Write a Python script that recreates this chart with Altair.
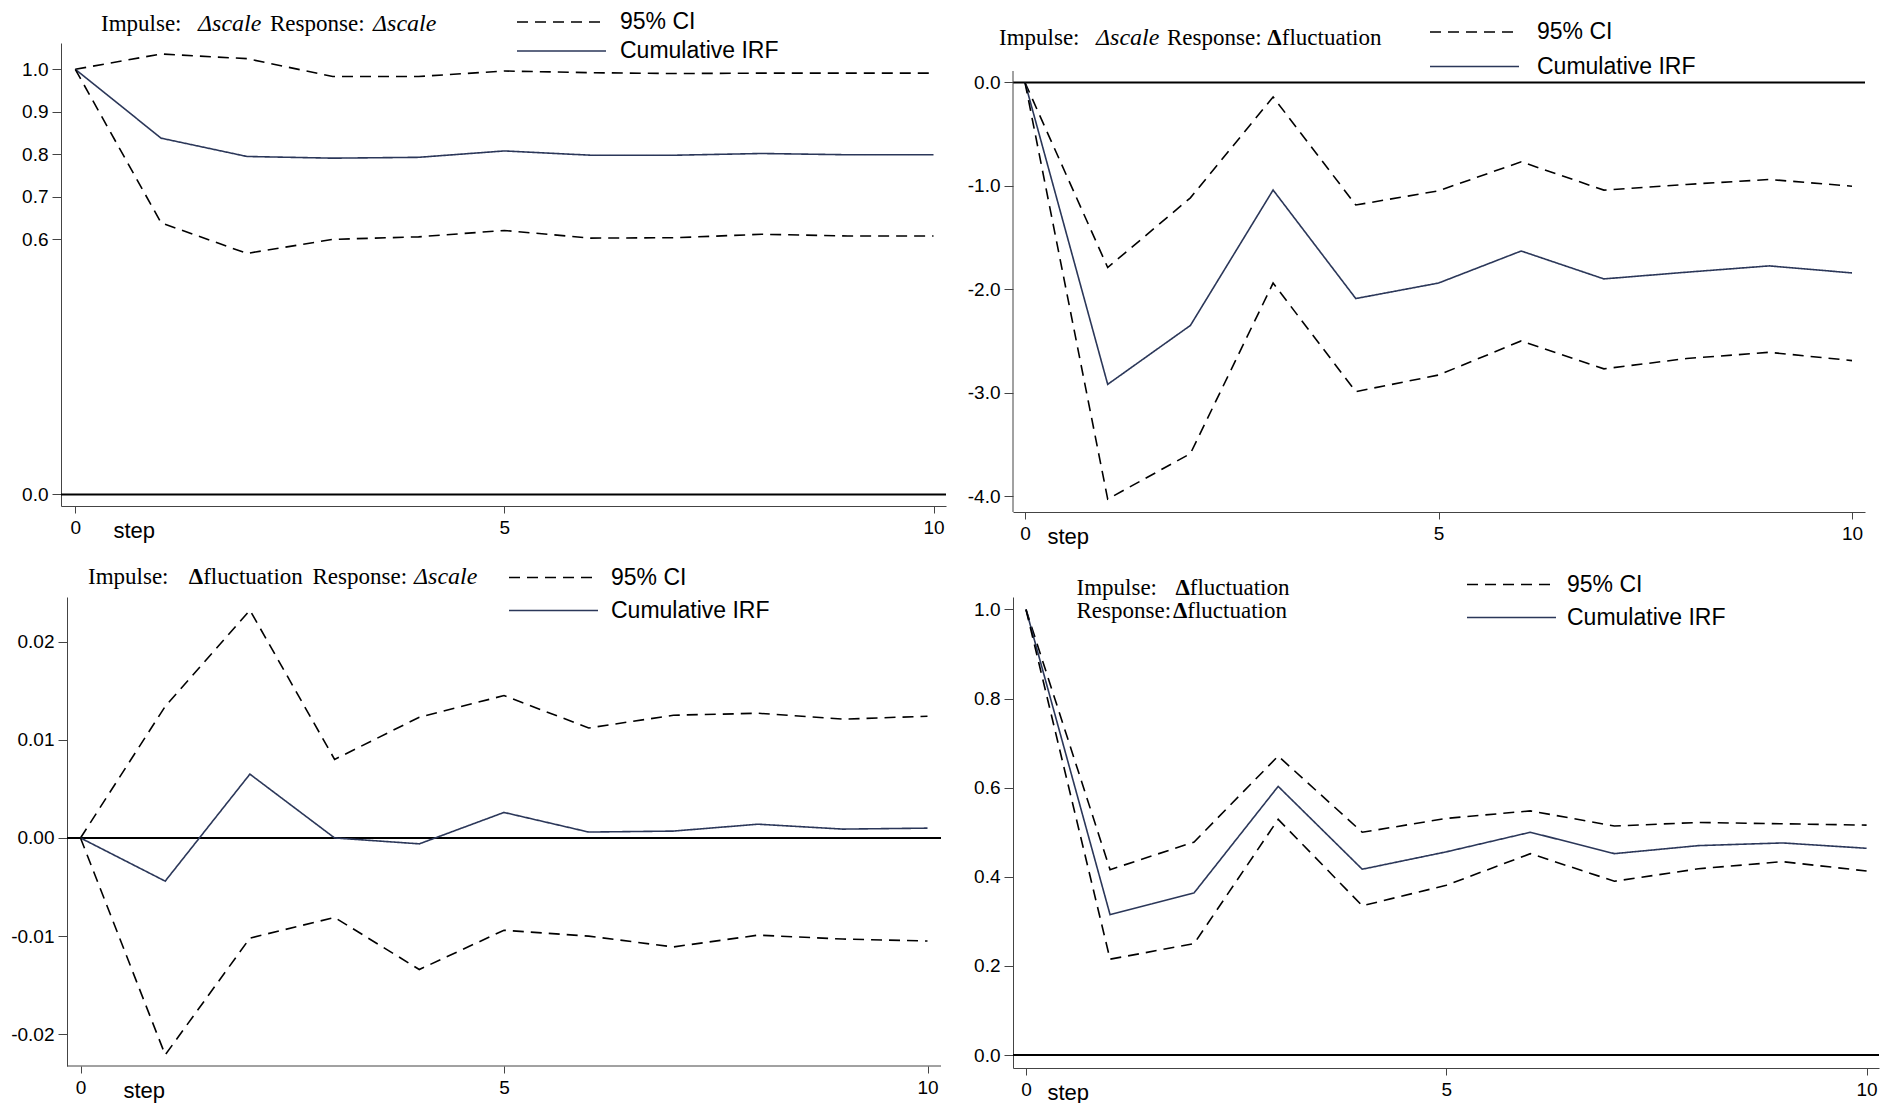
import altair as alt
import pandas as pd

# ---------------- data ----------------
STEPS = list(range(11))
KINDS = ["95% CI", "Cumulative IRF"]
X_TICKS = [0, 5, 10]

# Impulse: Δscale  -> Response: Δscale
P1_UPPER = [1.000, 1.036, 1.025, 0.983, 0.983, 0.996, 0.992, 0.990, 0.991, 0.991, 0.991]
P1_IRF = [1.000, 0.838, 0.795, 0.791, 0.793, 0.808, 0.798, 0.798, 0.802, 0.799, 0.799]
P1_LOWER = [1.000, 0.639, 0.567, 0.600, 0.606, 0.621, 0.603, 0.604, 0.612, 0.608, 0.608]
P1_Y_TICKS = [0.0, 0.6, 0.7, 0.8, 0.9, 1.0]

# Impulse: Δscale  -> Response: Δfluctuation
P2_UPPER = [0.0, -1.79, -1.116, -0.14, -1.185, -1.048, -0.767, -1.041, -0.986, -0.938, -1.003]
P2_IRF = [0.0, -2.92, -2.35, -1.04, -2.09, -1.94, -1.63, -1.90, -1.835, -1.774, -1.842]
P2_LOWER = [0.0, -4.03, -3.59, -1.94, -2.99, -2.83, -2.50, -2.77, -2.67, -2.61, -2.69]
P2_Y_TICKS = [-4.0, -3.0, -2.0, -1.0, 0.0]

# Impulse: Δfluctuation -> Response: Δscale
P3_UPPER = [0.0, 0.0134, 0.0232, 0.0080, 0.0123, 0.0145, 0.0112, 0.0125, 0.0127, 0.0121, 0.0124]
P3_IRF = [0.0, -0.0044, 0.0065, 0.0000, -0.0006, 0.0026, 0.0006, 0.0007, 0.0014, 0.0009, 0.0010]
P3_LOWER = [0.0, -0.0221, -0.0102, -0.0081, -0.0134, -0.0094, -0.0100, -0.0111, -0.0099, -0.0103, -0.0105]
P3_Y_TICKS = [-0.02, -0.01, 0.0, 0.01, 0.02]

# Impulse: Δfluctuation -> Response: Δfluctuation
P4_UPPER = [1.0, 0.416, 0.478, 0.671, 0.500, 0.531, 0.548, 0.514, 0.522, 0.519, 0.516]
P4_IRF = [1.0, 0.315, 0.364, 0.603, 0.417, 0.456, 0.500, 0.452, 0.470, 0.476, 0.464]
P4_LOWER = [1.0, 0.215, 0.250, 0.529, 0.335, 0.381, 0.452, 0.390, 0.418, 0.434, 0.413]
P4_Y_TICKS = [0.0, 0.2, 0.4, 0.6, 0.8, 1.0]

# title pieces: (text, style, weight)
P1_TITLE = [[("Impulse:", "normal", "normal"), ("Δscale", "italic", "normal"),
             ("Response:", "normal", "normal"), ("Δscale", "italic", "normal")]]
P2_TITLE = [[("Impulse:", "normal", "normal"), ("Δscale", "italic", "normal"),
             ("Response:", "normal", "normal"), ("Δ", "normal", "bold"), ("fluctuation", "normal", "normal")]]
P3_TITLE = [[("Impulse:", "normal", "normal"), ("Δ", "normal", "bold"), ("fluctuation", "normal", "normal"),
             ("Response:", "normal", "normal"), ("Δscale", "italic", "normal")]]
P4_TITLE = [[("Impulse:", "normal", "normal"), ("Δ", "normal", "bold"), ("fluctuation", "normal", "normal")],
            [("Response:", "normal", "normal"), ("Δ", "normal", "bold"), ("fluctuation", "normal", "normal")]]

# ---------------- layout / style (page pixels) ----------------
SANS = "Liberation Sans"
SERIF = "Liberation Serif"
NAVY = "#2b3759"
AXIS = "#444444"
DASH = [11, 7]
TITLE_FS = 23
ITALIC_FS = 24
LEG_FS = 23
TICK_FS = 19
LEG_LEN = 89
ANCHOR = (8.5, 4.5)   # invisible corner marker that pins the layout origin

GEO = [
    dict(L=61, T=43, W=885, H=463, ax_left=0, x0=75.3, x10=933.5, yref=((1.0, 69.3), (0.0, 494.5)),
         fmt=".1f", step_x=113, axis_top=None, anchor=True,
         title_x=[[101, 198, 270, 373]], title_y=[30.5],
         leg=dict(line_x=517, label_x=620, c1=22, c2=51)),
    dict(L=1013, T=43, W=852, H=469, ax_left=0, x0=1025, x10=1852, yref=((0.0, 82.5), (-4.0, 496)),
         fmt=".1f", step_x=1047, axis_top=71, anchor=False,
         title_x=[[999, 1096, 1167, 1267.3, 1281.8]], title_y=[44.5],
         leg=dict(line_x=1430, label_x=1537, c1=32, c2=66.5)),
    dict(L=61, T=597, W=880, H=469, ax_left=6, x0=80.5, x10=927.5, yref=((0.02, 641.6), (-0.02, 1034.3)),
         fmt=".2f", step_x=123, axis_top=None, anchor=False,
         title_x=[[88, 188.7, 203.2, 312.5, 414]], title_y=[584],
         leg=dict(line_x=509, label_x=611, c1=577.5, c2=610.5)),
    dict(L=1013, T=597, W=866, H=471, ax_left=0, x0=1026, x10=1866.6, yref=((1.0, 609.5), (0.0, 1055)),
         fmt=".1f", step_x=1047, axis_top=None, anchor=False,
         title_x=[[1076.5, 1175.5, 1189.8], [1076.5, 1173, 1187.3]], title_y=[594.5, 617.5],
         leg=dict(line_x=1467, label_x=1567, c1=584.5, c2=617.5)),
]


def long_table(upper, irf, lower):
    rows = []
    for band, kind, vals in (("upper", KINDS[0], upper), ("irf", KINDS[1], irf), ("lower", KINDS[0], lower)):
        for s, v in zip(STEPS, vals):
            rows.append({"step": s, "value": v, "kind": kind, "band": band})
    return pd.DataFrame(rows)


def make_panel(table, yticks, title, g):
    L, T, W, H, AL = g["L"], g["T"], g["W"], g["H"], g["ax_left"]
    ppu = (g["x10"] - g["x0"]) / 10.0
    xdom = [(L - g["x0"]) / ppu, (L + W - g["x0"]) / ppu]
    (va, pa), (vb, pb) = g["yref"]
    k = (pb - pa) / (va - vb)
    ydom = [va - (T + H - pa) / k, va + (pa - T) / k]

    xs = alt.Scale(domain=xdom, nice=False, zero=False)
    ys = alt.Scale(domain=ydom, nice=False, zero=False)

    xaxis = alt.Axis(values=X_TICKS, format="d", grid=False, labelFlush=False,
                     labelFont=SANS, labelFontSize=TICK_FS, labelColor="black",
                     tickSize=7, labelPadding=5, tickColor=AXIS, domainColor=AXIS,
                     tickWidth=1, domainWidth=1, domain=AL == 0,
                     title="step", titleX=g["step_x"] - L, titleY=31, titleAlign="left",
                     titleAnchor="start", titleBaseline="alphabetic", titleFont=SANS,
                     titleFontSize=22, titleFontWeight="normal", titleColor="black")
    yaxis = alt.Axis(values=yticks, grid=False, title=None, offset=-AL,
                     labelExpr="replace(format(datum.value, '%s'), '\u2212', '-')" % g["fmt"],
                     labelFont=SANS, labelFontSize=TICK_FS, labelColor="black",
                     tickSize=9, labelPadding=4, tickColor=AXIS, domainColor=AXIS,
                     tickWidth=1, domainWidth=1, domain=g["axis_top"] is None)

    color = alt.Color("kind:N", scale=alt.Scale(domain=KINDS, range=["#000000", NAVY]), legend=None)
    dash = alt.StrokeDash("kind:N", scale=alt.Scale(domain=KINDS, range=[DASH, [1, 0]]), legend=None)

    lines = alt.Chart(table).mark_line(strokeWidth=1.6).encode(
        x=alt.X("step:Q", scale=xs, axis=xaxis),
        y=alt.Y("value:Q", scale=ys, axis=yaxis),
        color=color, strokeDash=dash, detail="band:N",
    )
    zero = alt.Chart(pd.DataFrame({"value": [0.0]})).mark_rule(color="black", strokeWidth=2).encode(
        x=alt.value(AL), x2=alt.value(W), y=alt.Y("value:Q", scale=ys, axis=yaxis)
    )
    layers = [zero, lines]

    if g["axis_top"] is not None:   # y axis line that starts below the top of the view
        top_v = va + (pa - g["axis_top"]) / k
        layers.append(alt.Chart(pd.DataFrame({"value": [top_v], "bottom": [ydom[0]]})).mark_rule(
            color=AXIS, strokeWidth=1).encode(
            x=alt.value(AL), y=alt.Y("value:Q", scale=ys, axis=yaxis), y2="bottom:Q"))
    if AL > 0:                      # x axis line that starts at the shifted y axis
        layers.append(alt.Chart(pd.DataFrame({"a": [0]})).mark_rule(color=AXIS, strokeWidth=1).encode(
            x=alt.value(AL), x2=alt.value(W), y=alt.value(H)))
    if g["anchor"]:
        layers.append(alt.Chart(pd.DataFrame({"a": [0]})).mark_rule(opacity=0, strokeWidth=1).encode(
            x=alt.value(ANCHOR[0] - L), x2=alt.value(ANCHOR[0] + 0.5 - L), y=alt.value(ANCHOR[1] - T)))

    # legend (key line + label), coloured through the same scales as the lines
    lg = g["leg"]
    for kind, yc in zip(KINDS, (lg["c1"], lg["c2"])):
        d = pd.DataFrame({"kind": [kind]})
        layers.append(alt.Chart(d).mark_rule(strokeWidth=1.6).encode(
            x=alt.value(lg["line_x"] - L), x2=alt.value(lg["line_x"] + LEG_LEN - L),
            y=alt.value(yc - T), color=color, strokeDash=dash))
        layers.append(alt.Chart(d).mark_text(
            align="left", baseline="middle", font=SANS, fontSize=LEG_FS, color="black").encode(
            x=alt.value(lg["label_x"] - L), y=alt.value(yc - T), text="kind:N"))

    for line_pieces, xs_abs, y_abs in zip(title, g["title_x"], g["title_y"]):
        for (txt, style, weight), x_abs in zip(line_pieces, xs_abs):
            layers.append(
                alt.Chart(pd.DataFrame({"t": [txt]})).mark_text(
                    align="left", baseline="alphabetic", font=SERIF,
                    fontSize=ITALIC_FS if style == "italic" else TITLE_FS,
                    fontStyle=style, fontWeight=weight, color="black").encode(
                    x=alt.value(x_abs - L), y=alt.value(y_abs - T), text="t:N")
            )
    return alt.layer(*layers).properties(width=W, height=H)


p1 = make_panel(long_table(P1_UPPER, P1_IRF, P1_LOWER), P1_Y_TICKS, P1_TITLE, GEO[0])
p2 = make_panel(long_table(P2_UPPER, P2_IRF, P2_LOWER), P2_Y_TICKS, P2_TITLE, GEO[1])
p3 = make_panel(long_table(P3_UPPER, P3_IRF, P3_LOWER), P3_Y_TICKS, P3_TITLE, GEO[2])
p4 = make_panel(long_table(P4_UPPER, P4_IRF, P4_LOWER), P4_Y_TICKS, P4_TITLE, GEO[3])

chart = alt.concat(
    p1, p2, p3, p4, columns=2, spacing={"row": 85, "column": 67}, bounds="flush"
).resolve_scale(
    x="independent", y="independent", color="independent", strokeDash="independent"
).properties(
    padding={"left": 0, "top": -4, "right": 5, "bottom": 0}, background="white"
).configure_view(stroke=None)

chart.save("out.html", embed_options={"renderer": "svg", "actions": False})
